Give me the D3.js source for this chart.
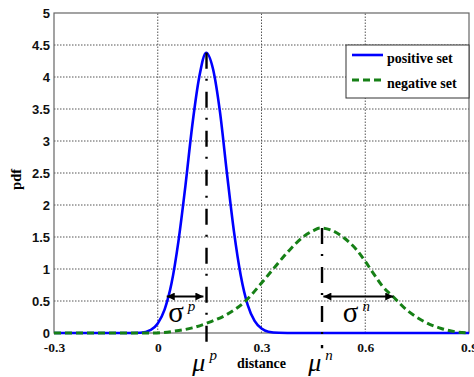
<!DOCTYPE html>
<html>
<head>
<meta charset="utf-8">
<script src="https://cdn.jsdelivr.net/npm/d3@7"></script>
<style>
  body { margin: 0; background: #fff; }
  .grid line { stroke: #555; stroke-width: 1; stroke-dasharray: 1.5,1.5; }
  .y-axis text { font-family: "Liberation Sans", Arial, sans-serif; font-weight: bold; font-size: 13px; fill: #111; }
  .x-axis text { font-family: "Liberation Serif", "Times New Roman", serif; font-weight: bold; font-size: 13.5px; fill: #111; }
  .serif { font-family: "Liberation Serif", "Times New Roman", serif; }
</style>
</head>
<body>
<div id="chart"></div>
<script>
// tick labels
const x_ticks = [-0.3, 0, 0.3, 0.6, 0.9];
const y_ticks = [0, 0.5, 1, 1.5, 2, 2.5, 3, 3.5, 4, 4.5, 5];

// positive set
const pos_x = [-0.3, -0.1, -0.05, -0.02, 0, 0.02, 0.04, 0.06, 0.08, 0.1, 0.12, 0.14, 0.16, 0.18, 0.2, 0.22, 0.24, 0.26, 0.28, 0.3, 0.32, 0.35, 0.4, 0.9];
const pos_y = [0, 0, 0.005, 0.05, 0.15, 0.37, 0.78, 1.44, 2.3, 3.25, 4.0, 4.38, 4.12, 3.45, 2.5, 1.6, 0.9, 0.44, 0.19, 0.07, 0.02, 0.003, 0, 0];

// negative set
const neg_x = [-0.3, -0.1, -0.01, 0.05, 0.1, 0.15, 0.2, 0.25, 0.3, 0.34, 0.38, 0.42, 0.45, 0.47, 0.5, 0.54, 0.575, 0.6, 0.625, 0.65, 0.68, 0.72, 0.77, 0.82, 0.86, 0.9];
const neg_y = [0, 0, 0, 0.03, 0.08, 0.17, 0.29, 0.48, 0.78, 1.04, 1.29, 1.5, 1.6, 1.64, 1.61, 1.48, 1.3, 1.12, 0.92, 0.73, 0.57, 0.36, 0.18, 0.07, 0.02, 0];

const series_names = ['positive set', 'negative set'];

// annotations: means and sigma spans
const mu_p = 0.141, mu_p_peak = 4.38;
const mu_n = 0.475, mu_n_peak = 1.64;
const sigma_p = [0.026, 0.132];
const sigma_n = [0.479, 0.681];
const sigma_level = 0.57;

const chart_width = 474;
const chart_height = 377;
const margin = { top: 13, right: 5, bottom: 44, left: 54 };

const svg = d3.select('#chart')
    .append('svg')
    .attr('width', chart_width)
    .attr('height', chart_height);

const x_scale = d3.scaleLinear()
    .domain([-0.3, 0.9])
    .range([margin.left, chart_width - margin.right]);

const y_scale = d3.scaleLinear()
    .domain([0, 5])
    .range([chart_height - margin.bottom, margin.top]);

// Grid
const grid = svg.append('g').classed('grid', true);
grid.selectAll('.gx')
    .data(x_ticks.slice(1, -1))
    .enter()
    .append('line')
    .attr('x1', d => x_scale(d)).attr('x2', d => x_scale(d))
    .attr('y1', y_scale(0)).attr('y2', y_scale(5));
grid.selectAll('.gy')
    .data(y_ticks.slice(1, -1))
    .enter()
    .append('line')
    .attr('x1', x_scale(-0.3)).attr('x2', x_scale(0.9))
    .attr('y1', d => y_scale(d)).attr('y2', d => y_scale(d));

// Axes
const x_axis = d3.axisBottom(x_scale)
    .tickValues(x_ticks)
    .tickFormat(d => d)
    .tickSize(0)
    .tickPadding(9);
svg.append('g')
    .classed('x-axis', true)
    .attr('transform', `translate(0, ${y_scale(0)})`)
    .call(x_axis)
    .call(g => g.select('.domain').remove());

const y_axis = d3.axisLeft(y_scale)
    .tickValues(y_ticks)
    .tickFormat(d => d)
    .tickSize(0)
    .tickPadding(4);
svg.append('g')
    .classed('y-axis', true)
    .attr('transform', `translate(${x_scale(-0.3)}, 0)`)
    .call(y_axis)
    .call(g => g.select('.domain').remove());

// Frame
svg.append('rect')
    .attr('x', x_scale(-0.3))
    .attr('y', y_scale(5))
    .attr('width', x_scale(0.9) - x_scale(-0.3))
    .attr('height', y_scale(0) - y_scale(5))
    .attr('fill', 'none')
    .attr('stroke', '#666')
    .attr('stroke-width', 1.2);

// Curves
const line = d3.line()
    .x(d => x_scale(d[0]))
    .y(d => y_scale(d[1]))
    .curve(d3.curveMonotoneX);

svg.append('path')
    .datum(d3.zip(pos_x, pos_y))
    .attr('d', line)
    .attr('fill', 'none')
    .attr('stroke', '#0000ff')
    .attr('stroke-width', 2.6);

svg.append('path')
    .datum(d3.zip(neg_x, neg_y))
    .attr('d', line)
    .attr('fill', 'none')
    .attr('stroke', '#168016')
    .attr('stroke-width', 3)
    .attr('stroke-dasharray', '7,4');

// Mean lines (dash-dot)
const mean_lines = [[mu_p, mu_p_peak], [mu_n, mu_n_peak]];
svg.selectAll('.mean')
    .data(mean_lines)
    .enter()
    .append('line')
    .attr('x1', d => x_scale(d[0])).attr('x2', d => x_scale(d[0]))
    .attr('y1', d => y_scale(d[1])).attr('y2', y_scale(-0.24))
    .attr('stroke', '#000')
    .attr('stroke-width', 2.4)
    .attr('stroke-dasharray', '16,10,2,11');

// Sigma arrows
const defs = svg.append('defs');
['start', 'end'].forEach(k => {
    defs.append('marker')
        .attr('id', 'arrow-' + k)
        .attr('viewBox', '0 0 10 10')
        .attr('refX', k === 'end' ? 10 : 0)
        .attr('refY', 5)
        .attr('markerWidth', 10)
        .attr('markerHeight', 8)
        .attr('markerUnits', 'userSpaceOnUse')
        .attr('orient', 'auto')
        .append('path')
        .attr('d', k === 'end' ? 'M0,0 L10,5 L0,10 Z' : 'M10,0 L0,5 L10,10 Z')
        .attr('fill', '#000');
});

svg.selectAll('.sigma')
    .data([sigma_p, sigma_n])
    .enter()
    .append('line')
    .attr('x1', d => x_scale(d[0])).attr('x2', d => x_scale(d[1]))
    .attr('y1', y_scale(sigma_level)).attr('y2', y_scale(sigma_level))
    .attr('stroke', '#000')
    .attr('stroke-width', 1.8)
    .attr('marker-start', 'url(#arrow-start)')
    .attr('marker-end', 'url(#arrow-end)');

// Greek labels
function greek(x, y, main, sup, italic, size) {
    const t = svg.append('text')
        .classed('serif', true)
        .attr('x', x)
        .attr('y', y)
        .attr('fill', '#000');
    t.append('tspan')
        .attr('font-size', size)
        .attr('font-style', italic ? 'italic' : 'normal')
        .text(main);
    t.append('tspan')
        .attr('font-size', 15)
        .attr('font-style', 'italic')
        .attr('dx', 4)
        .attr('dy', -11)
        .text(sup);
}
greek(x_scale(0.03), y_scale(0.17), 'σ', 'p', false, 29);
greek(x_scale(0.535), y_scale(0.17), 'σ', 'n', false, 29);
greek(x_scale(0.1), y_scale(-0.6), 'μ', 'p', true, 26);
greek(x_scale(0.435), y_scale(-0.6), 'μ', 'n', true, 26);

// Axis titles
svg.append('text')
    .classed('serif', true)
    .attr('x', x_scale(0.3))
    .attr('y', y_scale(0) + 35)
    .attr('text-anchor', 'middle')
    .attr('font-weight', 'bold')
    .attr('font-size', 14)
    .text('distance');

svg.append('text')
    .classed('serif', true)
    .attr('transform', `translate(21, ${y_scale(2.4)}) rotate(-90)`)
    .attr('text-anchor', 'middle')
    .attr('font-weight', 'bold')
    .attr('font-size', 14.5)
    .text('pdf');

// Legend
const legend = svg.append('g')
    .attr('transform', `translate(${x_scale(0.9) - 123}, 45)`);
legend.append('rect')
    .attr('width', 123)
    .attr('height', 53)
    .attr('fill', '#fff')
    .attr('stroke', '#333')
    .attr('stroke-width', 1);

const leg_styles = [
    { color: '#0000ff', dash: null, width: 2.6 },
    { color: '#168016', dash: '7,4', width: 3 }
];
series_names.forEach((name, i) => {
    const row = legend.append('g')
        .attr('transform', `translate(0, ${10 + i * 25})`);
    row.append('line')
        .attr('x1', 6).attr('x2', 37)
        .attr('stroke', leg_styles[i].color)
        .attr('stroke-width', leg_styles[i].width)
        .attr('stroke-dasharray', leg_styles[i].dash);
    row.append('text')
        .classed('serif', true)
        .attr('x', 41)
        .attr('y', 8)
        .attr('font-weight', 'bold')
        .attr('font-size', 14)
        .text(name);
});
</script>
</body>
</html>
